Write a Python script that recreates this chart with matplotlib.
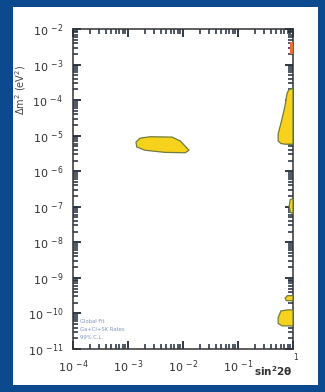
import numpy as np
import matplotlib
matplotlib.use("Agg")
import matplotlib.pyplot as plt
from matplotlib.patches import Rectangle
from matplotlib.ticker import FixedLocator, NullFormatter

plt.rcParams["mathtext.default"] = "regular"

# allowed regions, vertices as (log10 sin^2 2theta, log10 dm^2)
lma_region = [(-2.855, -5.18), (-2.78, -5.07), (-2.60, -5.03), (-2.20, -5.04),
              (-2.05, -5.15), (-1.89, -5.41), (-1.96, -5.48), (-2.33, -5.47),
              (-2.69, -5.41), (-2.84, -5.32)]
large_mix_region = [(-0.073, -3.70), (0.0, -3.68), (0.0, -5.24), (-0.145, -5.24),
                    (-0.22, -5.22), (-0.27, -5.15), (-0.27, -4.95), (-0.20, -4.53),
                    (-0.145, -4.16), (-0.11, -3.82)]
low_region = [(-0.07, -6.98), (-0.05, -6.80), (0.0, -6.77), (0.0, -7.20),
              (-0.05, -7.15)]
vac_region_a = [(-0.145, -9.57), (-0.10, -9.50), (0.0, -9.50), (0.0, -9.64),
                (-0.12, -9.64)]
vac_region_b = [(-0.27, -10.12), (-0.22, -9.93), (-0.10, -9.90), (0.0, -9.90),
                (0.0, -10.35), (-0.20, -10.35), (-0.27, -10.28)]
excluded_top = [(-0.06, -2.37), (0.0, -2.37), (0.0, -2.70), (-0.06, -2.70)]

xdecades = [-4, -3, -2, -1, 0]
xlabels = [r"10 $^{-4}$", r"10 $^{-3}$", r"10 $^{-2}$", r"10 $^{-1}$", ""]
ydecades = list(range(-11, -1))
ylabels = [r"10 $^{%d}$" % k for k in ydecades]
legend_lines = ["Global Fit", "Ga+Cl+SK Rates", "99% C.L."]

fig = plt.figure(figsize=(3.25, 3.92), dpi=100, facecolor="#0b4a8e")
panel = Rectangle((13 / 325, 1 - 385 / 392), 305 / 325, 378 / 392,
                  transform=fig.transFigure, facecolor="white",
                  edgecolor="none", zorder=-1)
fig.patches.append(panel)

ax = fig.add_axes([73 / 325, 1 - 349 / 392, 220 / 325, 320 / 392])
ax.set_zorder(2)
ax.set_xscale("log")
ax.set_yscale("log")
ax.set_xlim(1e-4, 1)
ax.set_ylim(1e-11, 1e-2)
ax.set_facecolor("white")

yellow = "#f6d21c"
edge = "#6f7c3c"
for poly in [lma_region, large_mix_region, low_region, vac_region_a, vac_region_b]:
    p = np.array(poly)
    ax.fill(10 ** p[:, 0], 10 ** p[:, 1], facecolor=yellow, edgecolor=edge,
            linewidth=0.9, zorder=3)
p = np.array(excluded_top)
ax.fill(10 ** p[:, 0], 10 ** p[:, 1], facecolor="#ec6a3c", edgecolor="none", zorder=3)

ax.set_xticks([10.0 ** k for k in xdecades])
ax.set_xticklabels(xlabels)
ax.set_yticks([10.0 ** k for k in ydecades])
ax.set_yticklabels(ylabels)
# minor ticks at 2..9 in each decade
xminor = [m * 10.0 ** k for k in xdecades[:-1] for m in range(2, 10)]
yminor = [m * 10.0 ** k for k in range(-11, -2) for m in range(2, 10)]
ax.xaxis.set_minor_locator(FixedLocator(xminor))
ax.yaxis.set_minor_locator(FixedLocator(yminor))
ax.xaxis.set_minor_formatter(NullFormatter())
ax.yaxis.set_minor_formatter(NullFormatter())
ax.tick_params(which="both", direction="in", top=True, right=True,
               labelsize=8, labelcolor="#333333", color="#1e2a3a", pad=7)
ax.tick_params(which="major", length=5.5, width=1.3)
ax.tick_params(which="minor", length=3.5, width=1.1)
for s in ax.spines.values():
    s.set_color("#333333")
    s.set_linewidth(1.1)

# the "1" at the right end sits raised, like an exponent
ax.text(1.0, -0.012, "1", transform=ax.transAxes, ha="left", va="top",
        fontsize=5.5, color="#333333")

ax.set_ylabel(r"$\Delta m^2$ (eV$^2$)", fontsize=7, color="#444444")
ax.yaxis.set_label_coords(-0.205, 0.81)
ax.text(1.0, -0.07, r"sin$^2$2$\theta$", transform=ax.transAxes, ha="right",
        va="center", fontsize=7.5, color="#333333", fontweight="bold")

for i, line in enumerate(legend_lines):
    ax.text(0.03, 0.085 - i * 0.025, line, transform=ax.transAxes, fontsize=3.8,
            color="#7f97bd", va="center")

fig.savefig("out.png", dpi=100, facecolor=fig.get_facecolor())
